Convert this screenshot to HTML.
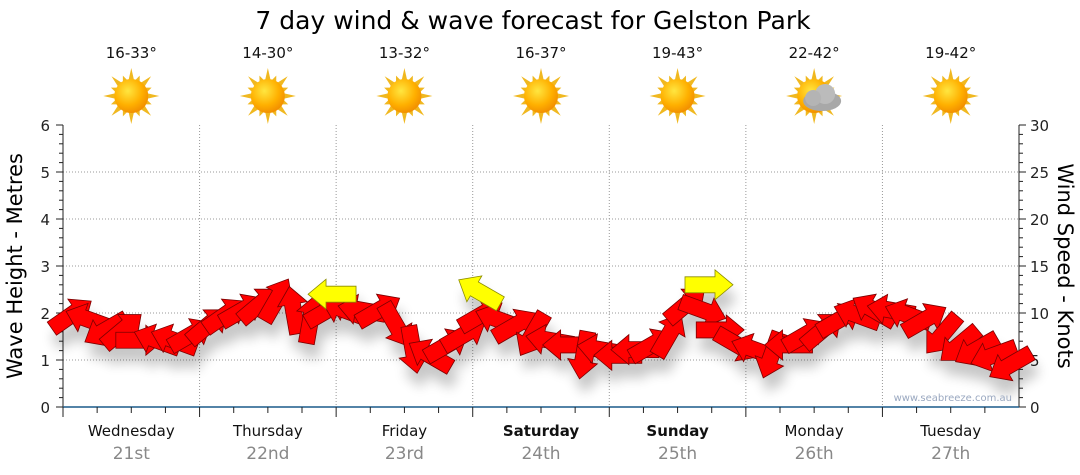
<!DOCTYPE html>
<html><head><meta charset="utf-8"><style>
body{margin:0;background:#fff;}
svg{display:block;font-family:"DejaVu Sans","Liberation Sans",sans-serif;}
</style></head><body>
<svg id="c" width="1080" height="475" viewBox="0 0 1080 475">
<defs>
<radialGradient id="sunG" cx="0.4" cy="0.35" r="0.7"><stop offset="0" stop-color="#ffe640"/><stop offset="0.6" stop-color="#ffb000"/><stop offset="1" stop-color="#f08a00"/></radialGradient>
<filter id="sh" x="-30%" y="-30%" width="160%" height="200%"><feGaussianBlur in="SourceAlpha" stdDeviation="6"/><feOffset dx="4" dy="14"/><feComponentTransfer><feFuncA type="linear" slope="0.22"/></feComponentTransfer><feMerge><feMergeNode/><feMergeNode in="SourceGraphic"/></feMerge></filter>
</defs>
<text x="533" y="29" font-size="25" text-anchor="middle" fill="#000">7 day wind &amp; wave forecast for Gelston Park</text>
<g id="grid"></g><g id="axes"></g><g id="wx"></g><g id="marks" filter="url(#sh)"></g>
<text x="1012" y="401" font-size="10" text-anchor="end" fill="#9aa8c0">www.seabreeze.com.au</text>
<text transform="translate(22,266) rotate(-90)" font-size="21" text-anchor="middle" fill="#000">Wave Height - Metres</text>
<text transform="translate(1058,266) rotate(90)" font-size="21" text-anchor="middle" fill="#000">Wind Speed - Knots</text>
</svg>
<script>
const days=["Wednesday","Thursday","Friday","Saturday","Sunday","Monday","Tuesday"];
const dates=["21st","22nd","23rd","24th","25th","26th","27th"];
const boldDays=[false,false,false,true,true,false,false];
const temps=["16-33°","14-30°","13-32°","16-37°","19-43°","22-42°","19-42°"];
const cloudy=[false,false,false,false,false,true,false];
const leftTicks=[0,1,2,3,4,5,6];
const rightTicks=[0,5,10,15,20,25,30];
// wind speed (knots) every 3 hours
const windSpeed=[9.8,9.3,8.2,8.2,7.1,7.1,7.1,7.7, 8.7,9.8,10.3,10.9,11.4,10.3,9.3,10.3, 10.3,10.3,10.3,8.7,6.1,5.5,6.6,7.7, 9.8,9.3,8.7,7.7,7.1,6.6,5.5,6.1, 5.5,6.1,6.6,7.7,10.9,10.3,8.2,6.6, 6.1,5.5,6.6,7.7,8.2,9.3,9.8,10.3, 10.3,9.8,9.3,7.7,6.6,6.1,5.5,4.5];
// arrow screen angle (deg, 0=pointing right, negative=up)
const windDir=[-35,200,150,-40,0,200,200,-30, -40,-35,-30,-40,-60,-100,-80,-30, 200,190,-30,60,80,210,-30,-30, -30,200,-30,120,190,180,100,190, 180,180,-30,-60,-40,20,0,30, 200,110,180,-30,-40,-30,200,210, 190,200,-30,130,140,150,160,150];
// swell (yellow) arrows: day position, wave height m, angle
const swellPos=[1.97,3.05,4.73];
const swellHeight=[2.4,2.45,2.6];
const swellDir=[180,210,0];

const svg=document.getElementById('c');
const NS='http://www.w3.org/2000/svg';
const X0=63,X1=1019,Y0=407,Y1=125;
const dayW=(X1-X0)/7;
const yM=v=>Y0-(v/6)*(Y0-Y1);
const yK=v=>Y0-(v/30)*(Y0-Y1);
const xT=i=>X0+dayW*i/8+dayW/16;
function el(t,a,p){const e=document.createElementNS(NS,t);for(const k in a)e.setAttribute(k,a[k]);(p||svg).appendChild(e);return e;}
const grid=document.getElementById('grid'),axes=document.getElementById('axes'),wx=document.getElementById('wx'),marks=document.getElementById('marks');
leftTicks.forEach(v=>{
  if(v>0&&v<6){const g=el('line',{x1:X0,x2:X1,y1:yM(v),y2:yM(v),stroke:'#999','stroke-dasharray':'1,2'},grid);
  
  }
  const t=el('text',{x:50,y:yM(v)+6,'font-size':15,'text-anchor':'end',fill:'#222'},axes);t.textContent=v;
  
  
});
rightTicks.forEach(v=>{
  const t=el('text',{x:1030,y:yK(v)+6,'font-size':15,fill:'#222'},axes);t.textContent=v;
  
  
});
for(let i=0;i<=30;i++){const y=yK(i),L=(i%5==0)?7:4;
  el('line',{x1:X0,x2:X0-L,y1:y,y2:y,stroke:'#222'},axes);
  el('line',{x1:X1,x2:X1+L,y1:y,y2:y,stroke:'#222'},axes);}
el('line',{x1:X0,x2:X0,y1:Y1,y2:Y0,stroke:'#222'},axes);
el('line',{x1:X1,x2:X1,y1:Y1,y2:Y0,stroke:'#222'},axes);
el('line',{x1:X0,x2:X1,y1:Y0,y2:Y0,stroke:'#1a5a8a','stroke-width':1.5},axes);
for(let d=0;d<7;d++){
  const xs=X0+d*dayW,xc=xs+dayW/2;
  if(d>0){const g=el('line',{x1:xs,x2:xs,y1:Y1,y2:Y0,stroke:'#999','stroke-dasharray':'1,2'},grid);
    
    }
  for(let q=0;q<4;q++){const x=xs+q*dayW/4;el('line',{x1:x,x2:x,y1:Y0,y2:Y0+(q==0?10:6),stroke:'#222'},axes);}
  const t=el('text',{x:xc,y:436,'font-size':15,'text-anchor':'middle',fill:'#111','font-weight':boldDays[d]?'bold':'normal'},axes);t.textContent=days[d];
  
  
  const t2=el('text',{x:xc,y:459,'font-size':17,'text-anchor':'middle',fill:'#888'},axes);t2.textContent=dates[d];
  
  
  const t3=el('text',{x:xc,y:58,'font-size':15,'text-anchor':'middle',fill:'#111'},wx);t3.textContent=temps[d];
  
  
  const g=el('g',{transform:`translate(${xc},96)`},wx);
  
  
  for(let r=0;r<16;r++){const a=r*Math.PI/8,L=(r%2==0)?28:22;
    el('polygon',{points:`${Math.cos(a)*L},${Math.sin(a)*L} ${Math.cos(a+0.2)*15},${Math.sin(a+0.2)*15} ${Math.cos(a-0.2)*15},${Math.sin(a-0.2)*15}`,fill:'#f0b820'},g);}
  el('circle',{r:17,fill:'url(#sunG)'},g);
  if(cloudy[d]){el('ellipse',{cx:8,cy:5,rx:19,ry:10,fill:'#a8a8a8'},g);el('circle',{cx:11,cy:-2,r:10,fill:'#bbb'},g);el('circle',{cx:-1,cy:2,r:8,fill:'#b4b4b4'},g);}
}
function arrow(x,y,ang,fill,stroke,name){
  const g=el('g',{transform:`translate(${x},${y}) rotate(${ang})`},marks);
  el('polygon',{points:'-24,-8 6,-8 6,-15 24,0 6,15 6,8 -24,8',fill:fill,stroke:stroke,'stroke-width':0.8},g);
  
  
}
windSpeed.forEach((v,i)=>arrow(xT(i),yK(v),windDir[i],'#ff0000','#7a0000','wind-arrow'));
swellPos.forEach((p,i)=>arrow(X0+p*dayW,yM(swellHeight[i]),swellDir[i],'#ffff00','#8a8a00','swell-arrow'));
</script>
</body></html>
